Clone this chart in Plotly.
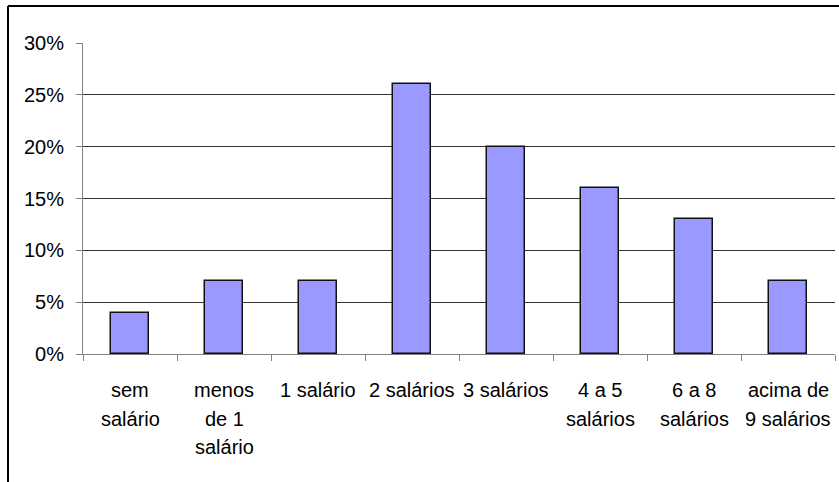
import plotly.graph_objects as go

# Income brackets (each entry is one label split into its printed lines)
categories = ["sem salário", "menos de 1 salário", "1 salário", "2 salários",
              "3 salários", "4 a 5 salários", "6 a 8 salários", "acima de 9 salários"]
label_lines = [["sem", "salário"], ["menos", "de 1", "salário"], ["1 salário"],
               ["2 salários"], ["3 salários"], ["4 a 5", "salários"],
               ["6 a 8", "salários"], ["acima de", "9 salários"]]
shares = [4, 7, 7, 26, 20, 16, 13, 7]          # percent of respondents
y_ticks = [0, 5, 10, 15, 20, 25, 30]
y_tick_text = [f"{v}%" for v in y_ticks]

FONT = "Arial, Liberation Sans, sans-serif"
FS = 20
W, H = 839, 482
L, R, T, B = 83, 4, 43, 128

fig = go.Figure(go.Bar(
    x=categories, y=shares, width=0.41,
    marker=dict(color="#9999FF", line=dict(color="#111111", width=1.5)),
    hoverinfo="x+y",
))

# category labels drawn line by line with the wider spacing of the original sheet
annotations = []
for cat, lines in zip(categories, label_lines):
    for j, txt in enumerate(lines):
        annotations.append(dict(
            x=cat, xref="x", y=0, yref="paper", text=txt, showarrow=False,
            xanchor="center", yanchor="middle", yshift=-(36 + 28.5 * j),
            font=dict(family=FONT, size=FS, color="#000000"),
        ))

# outer chart frame (left and top edges)
px = lambda v: (v - L) / (W - L - R)
py = lambda v: (H - B - v) / (H - T - B)
shapes = [
    dict(type="line", xref="paper", yref="paper", x0=px(8), x1=px(8),
         y0=py(6), y1=py(500), line=dict(color="#000000", width=2)),
    dict(type="line", xref="paper", yref="paper", x0=px(8), x1=px(860),
         y0=py(6), y1=py(6), line=dict(color="#000000", width=2)),
]

fig.update_layout(
    width=W, height=H,
    margin=dict(l=L, r=R, t=T, b=B, pad=0),
    paper_bgcolor="white", plot_bgcolor="white",
    font=dict(family=FONT, size=FS, color="#000000"),
    showlegend=False, bargap=0,
    annotations=annotations, shapes=shapes,
    xaxis=dict(
        type="category", range=[-0.5, len(categories) - 0.5],
        showticklabels=False, tickson="boundaries", ticks="outside",
        ticklen=6, tickcolor="#808080", tickwidth=1,
        showline=True, linecolor="#808080", linewidth=1,
        showgrid=False, zeroline=False, fixedrange=True,
    ),
    yaxis=dict(
        range=[0, 30], tickmode="array", tickvals=y_ticks, ticktext=y_tick_text,
        ticks="outside", ticklen=6, tickcolor="#808080", tickwidth=1,
        ticklabelstandoff=8,
        showline=True, linecolor="#808080", linewidth=1,
        showgrid=True, gridcolor="#333333", gridwidth=1,
        zeroline=False, fixedrange=True,
        tickfont=dict(family=FONT, size=FS, color="#000000"),
    ),
)

fig.write_html("out.html")
